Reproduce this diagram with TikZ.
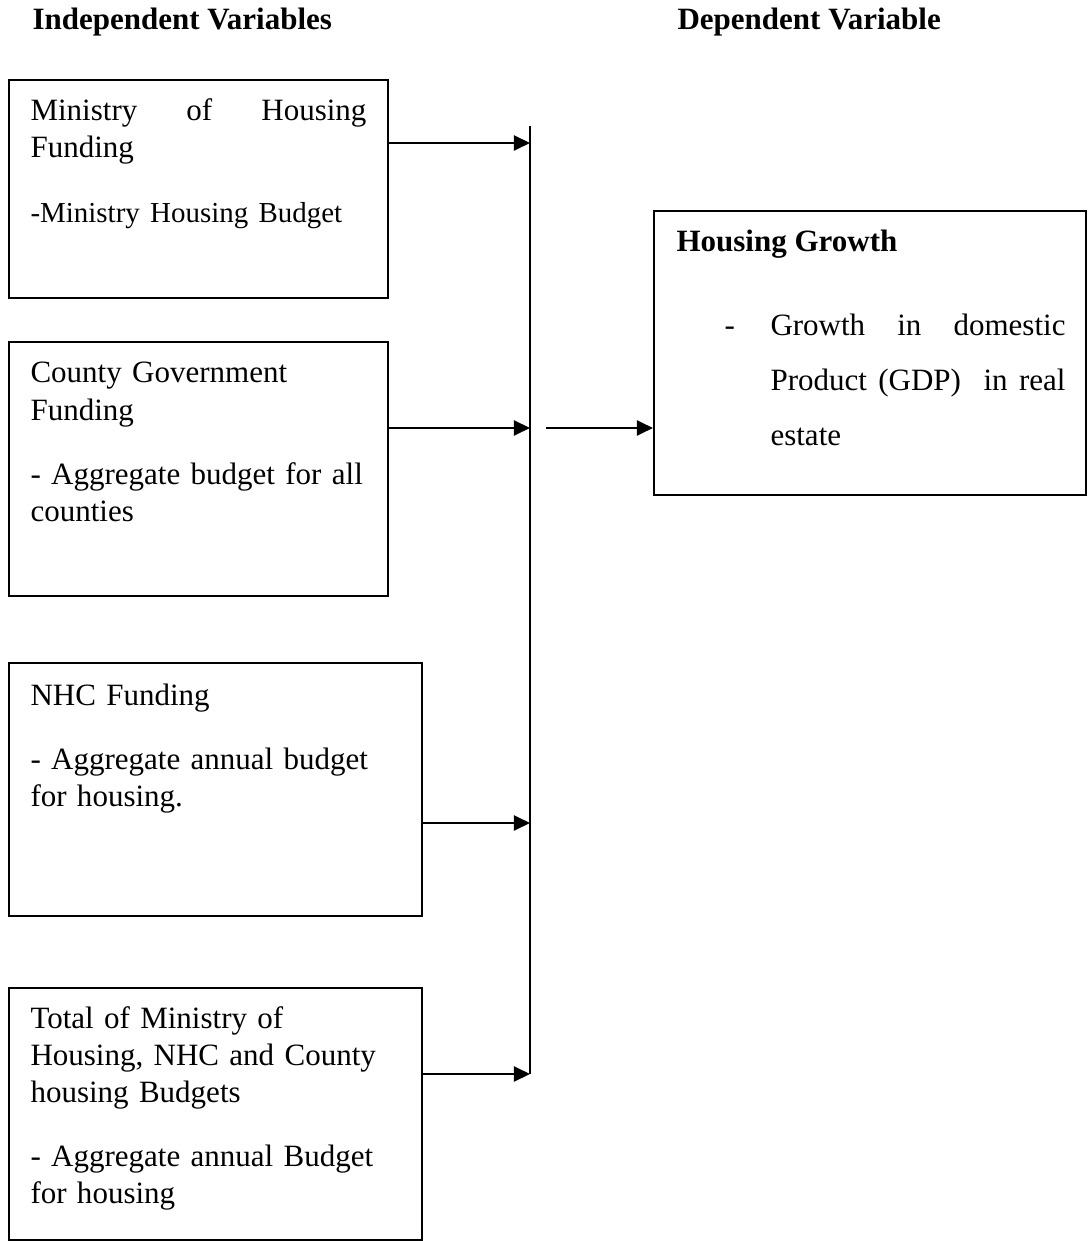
\documentclass[tikz,border=0pt]{standalone}
\usepackage{fontspec}
\setmainfont{Liberation Serif}
\usetikzlibrary{arrows.meta,fit}
\newdimen\px
\px=0.387pt
\tikzset{
  box/.style={draw, line width=0.8pt, inner sep=0pt},
  arr/.style={line width=0.8pt, -{Triangle[length=6.2pt,width=5.8pt]}},
  txt/.style={anchor=base west, inner sep=0pt, align=left, font=\fontsize{12}{14.32}\selectfont},
  hdr/.style={anchor=base west, inner sep=0pt, font=\fontsize{12}{14.32}\selectfont\bfseries},
}
\begin{document}
\begin{tikzpicture}[x=\px, y=-\px]
  \useasboundingbox (0,0) rectangle (1088,1241);

  \node[hdr] (indep) at (32,30) {Independent Variables};
  \node[hdr] (dep) at (677,30) {Dependent Variable};

  \node[box, fit={(9,80) (388,298)}] (mhf) {};
  \node[txt, text width=336\px] (mhf-t) at (30,121)
    {Ministry\hfill of\hfill Housing\\Funding\\[10.45pt]{\fontsize{11.2}{14.32}\selectfont -Ministry Housing Budget}};

  \node[box, fit={(9,342) (388,596)}] (cgf) {};
  \node[txt, text width=350\px] (cgf-t) at (30,383)
    {County Government\\Funding\\[10.45pt]- Aggregate budget for all\\counties};

  \node[box, fit={(9,663) (422,916)}] (nhc) {};
  \node[txt, text width=380\px] (nhc-t) at (30,705)
    {NHC Funding\\[10.45pt]- Aggregate annual budget\\for housing.};

  \node[box, fit={(9,988) (422,1240)}] (tot) {};
  \node[txt, text width=380\px] (tot-t) at (30,1028)
    {Total of Ministry of\\Housing, NHC and County\\housing Budgets\\[10.45pt]- Aggregate annual Budget\\for housing};

  \node[box, fit={(654,211) (1086,495)}] (hg) {};
  \node[hdr] (hg-t) at (676,252) {Housing Growth};
  \node[txt, text width=295\px, font=\fontsize{12}{21.1}\selectfont] (hg-b) at (770,336)
    {\leavevmode\llap{\makebox[46\px][l]{-}}Growth\hfill in\hfill domestic\\Product\hfill (GDP)\hfill\hfill in\hfill real\\estate};

  \coordinate (top) at (530,126);
  \coordinate (j1) at (530,143);
  \coordinate (j2) at (530,428);
  \coordinate (j3) at (530,823);
  \coordinate (j4) at (530,1074);
  \coordinate (out) at (546,428);

  \draw[line width=0.8pt] (top) -- (j4);
  \draw[arr] (mhf.east |- j1) -- (j1);
  \draw[arr] (cgf.east |- j2) -- (j2);
  \draw[arr] (nhc.east |- j3) -- (j3);
  \draw[arr] (tot.east |- j4) -- (j4);
  \draw[arr] (out) -- (out -| hg.west);
\end{tikzpicture}
\end{document}
